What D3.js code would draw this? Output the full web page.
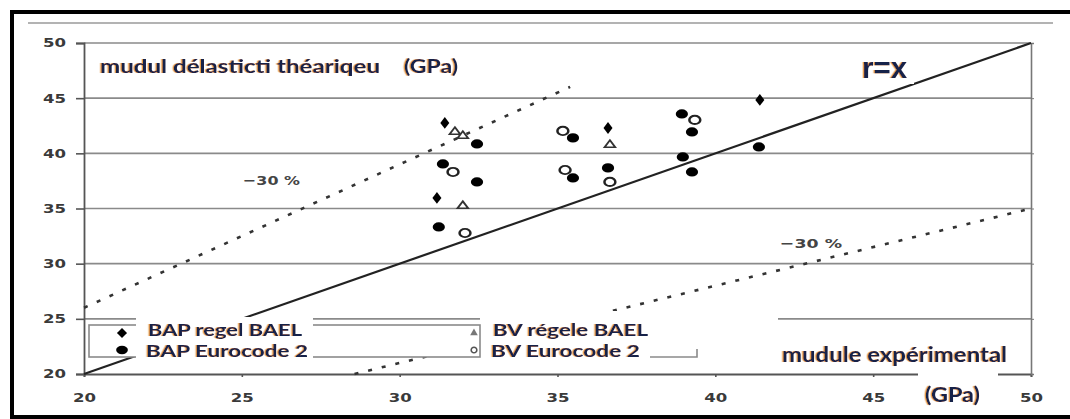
<!DOCTYPE html>
<html><head><meta charset="utf-8">
<script src="https://cdn.jsdelivr.net/npm/d3@7"></script>
<style>body{margin:0;background:#fff}svg{display:block}</style>
</head><body>
<svg id="c" width="1070" height="419">
  <defs>
    <filter id="fr" x="-5%" y="-20%" width="110%" height="140%">
      <feDropShadow dx="-1.3" dy="0" stdDeviation="0.35" flood-color="#e59030" flood-opacity="0.9"/>
    </filter>
  </defs>
</svg>
<script>
// ---- data ----
const xTicks = [20, 25, 30, 35, 40, 45, 50];
const yTicks = [20, 25, 30, 35, 40, 45, 50];
const bapBael = [[31.43,42.76],[31.18,35.96],[36.60,42.30],[41.41,44.84]];
const bvBael = [[31.75,41.94],[32.0,41.58],[36.66,40.76],[32.0,35.23]];
const bapEc2 = [[32.45,40.85],[31.37,39.04],[32.45,37.41],[31.24,33.33],[35.49,41.40],[35.49,37.77],[36.60,38.68],[38.94,43.57],[39.26,41.94],[38.97,39.67],[39.26,38.31],[41.38,40.58]];
const bvEc2 = [[31.69,38.31],[32.07,32.78],[35.17,42.03],[35.24,38.49],[36.66,37.41],[39.35,43.03]];
const lineEq = [[20,20],[50,50]];
const linePlus = [[20,26],[35.4,46.02]];
const lineMinus = [[28.57,20],[50,35]];
const legendNames = ["BAP regel BAEL","BAP Eurocode 2","BV régele BAEL","BV Eurocode 2"];

const svg = d3.select("#c");
const x = d3.scaleLinear().domain([20,50]).range([84,1031]);
const y = d3.scaleLinear().domain([20,50]).range([374,43]);
const navy = "#15204a";
const font = "Lato, 'Open Sans', sans-serif";

function label(t, px, py, size, len, fam){
  return svg.append("text").attr("x", px).attr("y", py).text(t)
    .attr("font-family", fam||font).attr("font-size", size).attr("font-weight", 700)
    .attr("textLength", len).attr("lengthAdjust","spacingAndGlyphs")
    .attr("fill", navy).attr("filter","url(#fr)");
}

// outer frame
svg.append("rect").attr("x",12).attr("y",12).attr("width",1080).attr("height",405)
  .attr("fill","none").attr("stroke","#000").attr("stroke-width",4);
svg.append("line").attr("x1",28).attr("x2",1053).attr("y1",23).attr("y2",23)
  .attr("stroke","#9a9a9a").attr("stroke-width",1.5);

// gridlines
svg.append("g").selectAll("line").data(yTicks.slice(1)).join("line")
  .attr("x1",x(20)).attr("x2",x(50)).attr("y1",d=>y(d)).attr("y2",d=>y(d))
  .attr("stroke","#8a8a8a").attr("stroke-width",1.6);

// axes
const yAxis = d3.axisLeft(y).tickValues(yTicks).tickSize(8).tickPadding(10).tickFormat(d3.format("d"));
const gy = svg.append("g").attr("transform",`translate(${x(20)},0)`).call(yAxis);
const xAxis = d3.axisBottom(x).tickValues(xTicks).tickSize(3).tickPadding(16).tickFormat(d3.format("d"));
const gx = svg.append("g").attr("transform",`translate(0,${y(20)})`).call(xAxis);
[gy,gx].forEach(g=>{
  g.select(".domain").attr("stroke","#555").attr("stroke-width",1.8);
  g.selectAll(".tick line").attr("stroke","#555").attr("stroke-width",1.6);
  g.selectAll(".tick text").attr("font-family","'DejaVu Sans', sans-serif")
    .attr("font-size",12).attr("font-weight",700).attr("fill","#3a3a3a")
    .attr("textLength",23).attr("lengthAdjust","spacingAndGlyphs");
});
// right axis
const gr = svg.append("g").attr("transform",`translate(${x(50)},0)`)
  .call(d3.axisRight(y).tickValues(yTicks).tickSize(3).tickFormat(""));
gr.select(".domain").attr("stroke","#777").attr("stroke-width",1.6);
gr.selectAll(".tick line").attr("stroke","#777");

// reference lines
const ln = d3.line().x(d=>x(d[0])).y(d=>y(d[1]));
svg.append("path").attr("d",ln(lineEq)).attr("fill","none").attr("stroke","#222").attr("stroke-width",2.2);
svg.append("path").attr("d",ln(linePlus)).attr("fill","none").attr("stroke","#333")
  .attr("stroke-width",2.6).attr("stroke-dasharray","4 10");
svg.append("path").attr("d",ln(lineMinus)).attr("fill","none").attr("stroke","#333")
  .attr("stroke-width",2.6).attr("stroke-dasharray","4 10");

// white patches from the original scan
svg.append("rect").attr("x",480).attr("y",311).attr("width",298).attr("height",52).attr("fill","#fff");
svg.append("rect").attr("x",918).attr("y",366).attr("width",80).attr("height",14).attr("fill","#fff");
svg.append("rect").attr("x",898).attr("y",56).attr("width",16).attr("height",28).attr("fill","#fff");

// points
function sym(data, type, opts){
  svg.append("g").selectAll("path").data(data).join("path")
    .attr("transform",d=>`translate(${x(d[0])},${y(d[1])}) scale(1.25,0.95)`)
    .attr("d", d3.symbol().type(type).size(opts.size))
    .attr("fill",opts.fill).attr("stroke",opts.stroke||"none").attr("stroke-width",opts.sw||0);
}
sym(bapEc2, d3.symbolCircle, {size:75, fill:"#000"});
sym(bvEc2, d3.symbolCircle, {size:60, fill:"#fff", stroke:"#222", sw:2});
sym(bapBael, d3.symbolDiamond, {size:45, fill:"#000"});
sym(bvBael, d3.symbolTriangle, {size:32, fill:"#fff", stroke:"#333", sw:1.6});

// legend
svg.append("rect").attr("x",89).attr("y",325).attr("width",391).attr("height",32)
  .attr("fill","#fff").attr("stroke","#8a8a8a").attr("stroke-width",1.6);
svg.append("path").attr("d","M650,357H697V349").attr("fill","none").attr("stroke","#8a8a8a").attr("stroke-width",1.6);
svg.append("rect").attr("x",136).attr("y",317).attr("width",177).attr("height",44).attr("fill","#fff");
svg.append("path").attr("transform","translate(122,333) scale(1.4,0.8)").attr("d",d3.symbol().type(d3.symbolDiamond).size(45)).attr("fill","#000");
svg.append("path").attr("transform","translate(122,350) scale(1.4,1)").attr("d",d3.symbol().type(d3.symbolCircle).size(55)).attr("fill","#000");
svg.append("path").attr("transform","translate(474,333)").attr("d",d3.symbol().type(d3.symbolTriangle).size(25)).attr("fill","#777");
svg.append("path").attr("transform","translate(474,350)").attr("d",d3.symbol().type(d3.symbolCircle).size(25)).attr("fill","#fff").attr("stroke","#555").attr("stroke-width",1.6);
label(legendNames[0],148,336,17,154);
label(legendNames[1],146,357,17,162);
label(legendNames[2],493,336,17,155);
label(legendNames[3],491,357,17,149);

// texts
label("mudul délasticti théariqeu",100,73,19,280);
label("(GPa)",404,73,19,54);
label("r=x",862,78,29,45,"'Liberation Sans', Arial, sans-serif");
label("mudule expérimental",782,362,20,225);
label("(GPa)",925,402,20,55);
svg.append("text").attr("x",243).attr("y",185).text("−30 %").attr("font-family","'DejaVu Sans', sans-serif")
  .attr("font-size",13).attr("font-weight",700).attr("fill","#444")
  .attr("textLength",57).attr("lengthAdjust","spacingAndGlyphs");
svg.append("text").attr("x",780).attr("y",248).text("−30 %").attr("font-family","'DejaVu Sans', sans-serif")
  .attr("font-size",13).attr("font-weight",700).attr("fill","#444")
  .attr("textLength",62).attr("lengthAdjust","spacingAndGlyphs");
</script>
</body></html>
